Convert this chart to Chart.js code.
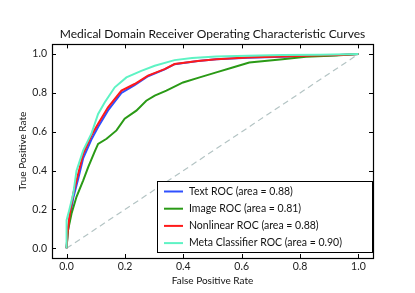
<!DOCTYPE html>
<html>
<head>
<meta charset="utf-8">
<script src="https://cdn.jsdelivr.net/npm/chart.js@4/dist/chart.umd.min.js"></script>
<style>
  html, body { margin: 0; padding: 0; background: #fff; }
</style>
</head>
<body>
<canvas id="rocChart" width="415" height="293"></canvas>
<script>
// curve labels (legend order)
const curveLabels = [
    'Text ROC (area = 0.88)',
    'Image ROC (area = 0.81)',
    'Nonlinear ROC (area = 0.88)',
    'Meta Classifier ROC (area = 0.90)'
];

// Text ROC
const textFpr = [0, 0.003, 0.011, 0.023, 0.04, 0.057, 0.085, 0.108, 0.142, 0.188, 0.233, 0.279, 0.336, 0.37, 0.45, 0.513, 0.62, 0.74, 0.85, 0.934, 1.0];
const textTpr = [0, 0.07, 0.16, 0.26, 0.36, 0.465, 0.56, 0.625, 0.71, 0.80, 0.84, 0.886, 0.921, 0.948, 0.964, 0.973, 0.981, 0.987, 0.992, 0.996, 1.0];

// Image ROC
const imageFpr = [0, 0.005, 0.017, 0.034, 0.057, 0.074, 0.097, 0.108, 0.137, 0.171, 0.199, 0.239, 0.273, 0.302, 0.342, 0.399, 0.456, 0.513, 0.569, 0.626, 0.74, 0.82, 0.923, 1.0];
const imageTpr = [0, 0.094, 0.179, 0.265, 0.35, 0.418, 0.50, 0.538, 0.564, 0.607, 0.667, 0.709, 0.76, 0.786, 0.812, 0.854, 0.88, 0.906, 0.931, 0.957, 0.974, 0.986, 0.993, 1.0];

// Nonlinear ROC
const nonlinFpr = [0, 0.003, 0.011, 0.023, 0.04, 0.057, 0.085, 0.108, 0.142, 0.188, 0.233, 0.279, 0.336, 0.37, 0.45, 0.513, 0.62, 0.74, 0.85, 0.934, 1.0];
const nonlinTpr = [0, 0.077, 0.179, 0.282, 0.385, 0.487, 0.581, 0.641, 0.726, 0.812, 0.846, 0.889, 0.923, 0.949, 0.965, 0.974, 0.982, 0.988, 0.993, 0.996, 1.0];

// Meta classifier ROC
const metaFpr = [0, 0, 0.009, 0.023, 0.034, 0.057, 0.085, 0.108, 0.131, 0.165, 0.205, 0.256, 0.302, 0.37, 0.43, 0.513, 0.62, 0.74, 0.87, 1.0];
const metaTpr = [0, 0.145, 0.196, 0.282, 0.40, 0.504, 0.59, 0.692, 0.752, 0.829, 0.88, 0.914, 0.94, 0.969, 0.98, 0.988, 0.992, 0.995, 0.997, 1.0];

// chance line
const chanceX = [0, 1];
const chanceY = [0, 1];

const axisTicks = [0, 0.2, 0.4, 0.6, 0.8, 1.0];

function toPoints(xs, ys) {
    return xs.map((x, i) => ({ x: x, y: ys[i] }));
}

const FONT = 'Lato, "Open Sans", sans-serif';

// inward tick marks on all four sides + axes frame
const frameTicks = {
    id: 'frameTicks',
    afterDatasetsDraw(chart) {
        const ctx = chart.ctx;
        const a = chart.chartArea;
        const xs = chart.scales.x;
        const ys = chart.scales.y;
        ctx.save();
        ctx.strokeStyle = '#000';
        ctx.lineWidth = 1;
        axisTicks.forEach(v => {
            const px = Math.round(xs.getPixelForValue(v)) + 0.5;
            ctx.beginPath();
            ctx.moveTo(px, a.bottom); ctx.lineTo(px, a.bottom - 4);
            ctx.moveTo(px, a.top); ctx.lineTo(px, a.top + 4);
            ctx.stroke();
            const py = Math.round(ys.getPixelForValue(v)) + 0.5;
            ctx.beginPath();
            ctx.moveTo(a.left, py); ctx.lineTo(a.left + 4, py);
            ctx.moveTo(a.right, py); ctx.lineTo(a.right - 4, py);
            ctx.stroke();
        });
        ctx.lineWidth = 1.2;
        ctx.strokeRect(Math.round(a.left) + 0.5, Math.round(a.top) + 0.5,
            Math.round(a.right - a.left), Math.round(a.bottom - a.top));
        ctx.restore();
    }
};

// legend box in the lower right of the plot
const insideLegend = {
    id: 'insideLegend',
    afterDraw(chart) {
        const ctx = chart.ctx;
        const a = chart.chartArea;
        const boxW = 215, rowH = 17.2;
        const boxH = 71;
        const left = a.right - boxW - 1;
        const top = a.bottom - boxH - 6;
        ctx.save();
        ctx.fillStyle = '#fff';
        ctx.fillRect(left, top, boxW, boxH);
        ctx.strokeStyle = '#000';
        ctx.lineWidth = 1;
        ctx.strokeRect(Math.round(left) + 0.5, Math.round(top) + 0.5, boxW, boxH);
        ctx.font = '10.5px ' + FONT;
        ctx.textBaseline = 'middle';
        ctx.fillStyle = '#111';
        curveLabels.forEach((label, i) => {
            const ds = chart.data.datasets[i];
            const y = top + 10.5 + i * rowH;
            ctx.strokeStyle = ds.borderColor;
            ctx.lineWidth = 2;
            ctx.beginPath();
            ctx.moveTo(left + 7, y); ctx.lineTo(left + 26, y);
            ctx.stroke();
            ctx.fillText(label, left + 32, y);
        });
        ctx.restore();
    }
};

new Chart(document.getElementById('rocChart'), {
    type: 'scatter',
    data: {
        datasets: [
            { label: curveLabels[0], data: toPoints(textFpr, textTpr), borderColor: '#2f50ff', order: 3 },
            { label: curveLabels[1], data: toPoints(imageFpr, imageTpr), borderColor: '#2a9a16', order: 2 },
            { label: curveLabels[2], data: toPoints(nonlinFpr, nonlinTpr), borderColor: '#ff1a1a', order: 1 },
            { label: curveLabels[3], data: toPoints(metaFpr, metaTpr), borderColor: '#5ef3c4', order: 0 },
            { label: 'chance', data: toPoints(chanceX, chanceY), borderColor: '#b4c4c4', borderWidth: 1.2, borderDash: [6, 4], order: 4 }
        ].map(d => Object.assign({ showLine: true, pointRadius: 0, borderWidth: 2, fill: false, tension: 0 }, d))
    },
    options: {
        responsive: false,
        animation: false,
        layout: { padding: { left: 0, right: 42, top: 0, bottom: 0 } },
        plugins: {
            legend: { display: false },
            tooltip: { enabled: false },
            title: {
                display: true,
                fullSize: false,
                text: 'Medical Domain Receiver Operating Characteristic Curves',
                color: '#111',
                font: { family: FONT, size: 12, weight: 'normal' },
                padding: { top: 27, bottom: 3 }
            }
        },
        scales: {
            x: {
                type: 'linear',
                min: -0.05,
                max: 1.05,
                afterFit: s => { s.height = 35; },
                afterBuildTicks: s => { s.ticks = axisTicks.map(v => ({ value: v })); },
                grid: { display: false, drawTicks: false },
                border: { display: false },
                ticks: { padding: 2, color: '#222', font: { family: FONT, size: 10.5 }, callback: v => v.toFixed(1) },
                title: { display: true, text: 'False Positive Rate', color: '#111', font: { family: FONT, size: 10 }, padding: { top: 0, bottom: 6 } }
            },
            y: {
                type: 'linear',
                min: -0.05,
                max: 1.05,
                afterFit: s => { s.width = 52; },
                afterBuildTicks: s => { s.ticks = axisTicks.map(v => ({ value: v })); },
                grid: { display: false, drawTicks: false },
                border: { display: false },
                ticks: { padding: 5, color: '#222', font: { family: FONT, size: 10.5 }, callback: v => v.toFixed(1) },
                title: { display: true, text: 'True Positive Rate', color: '#111', font: { family: FONT, size: 10 }, padding: { top: 17, bottom: 0 } }
            }
        }
    },
    plugins: [frameTicks, insideLegend]
});
</script>
</body>
</html>
